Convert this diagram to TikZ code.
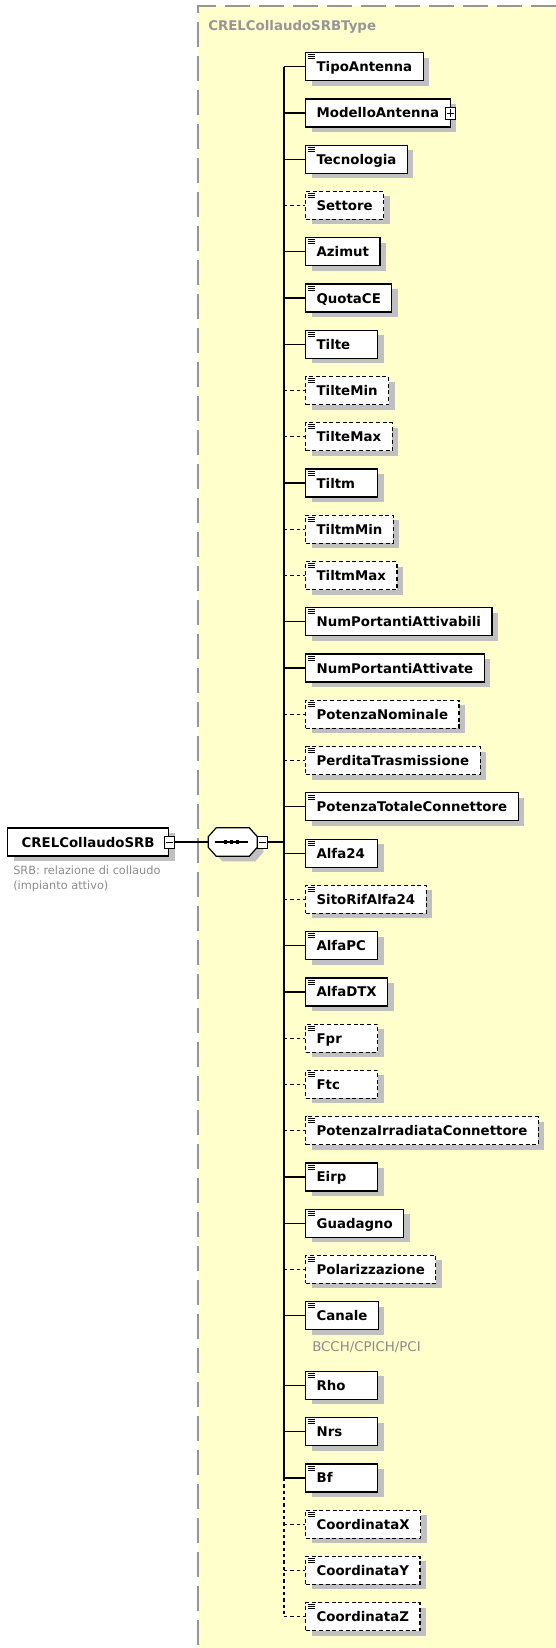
\documentclass[tikz,border=0pt]{standalone}
\usepackage{fontspec}
\setmainfont{DejaVu Sans}
\usetikzlibrary{shadows, positioning}
\definecolor{typeyellow}{RGB}{255,255,204}
\definecolor{typegray}{RGB}{150,150,150}
\definecolor{shadowgray}{RGB}{192,192,192}
\definecolor{notegray}{RGB}{140,140,140}
\newlength\elw
\newcommand\elabel[1]{\settowidth\elw{#1}\ifdim\elw<37.5pt\elw=37.5pt\fi\makebox[\elw][l]{#1}}

\tikzset{
  elm/.style={draw, fill=white, line width=0.9pt, anchor=west, minimum height=21pt,
    inner xsep=8.25pt, inner ysep=0pt, text height=7.5pt, text depth=0pt,
    font=\fontsize{10}{12}\selectfont\bfseries,
    drop shadow={shadow xshift=4.5pt, shadow yshift=-3.75pt, fill=shadowgray, opacity=1}},
  elo/.style={elm, dash pattern=on 3pt off 2pt},
  elc/.style={elm},
  brm/.style={line width=0.9pt},
  bro/.style={line width=0.9pt, dash pattern=on 2.5pt off 2.25pt},
  brc/.style={brm},
  toggle/.style={draw, fill=white, line width=0.6pt, minimum width=7.5pt, minimum height=9pt, inner sep=0pt},
  seqshape/.style={draw, fill=white, line width=0.9pt,
    drop shadow={shadow xshift=4.5pt, shadow yshift=-3.75pt, fill=shadowgray, opacity=1}}
}

\begin{document}
\begin{tikzpicture}[x=0.75pt, y=-0.75pt]
  \useasboundingbox (0,0) rectangle (556,1648);
  % complex type area
  \fill[typeyellow] (198,6) rectangle (556,1648);
  \draw[typegray, line width=1.1pt, dash pattern=on 18.75pt off 6.75pt] (556,6) -- (198,6) -- (198,1648);
  \node[anchor=base west, inner sep=0, text=typegray, font=\fontsize{10}{12}\selectfont\bfseries] (typename) at (208,31) {CRELCollaudoSRBType};

  % root element
  \node[elm, minimum width=120.75pt] (crel) at (7,842) {CRELCollaudoSRB};
  \node[toggle] (crelm) at (crel.east) {};
  \draw ([xshift=1.5pt]crelm.west) -- ([xshift=-1.5pt]crelm.east);
  \node[anchor=north west, align=left, inner sep=0, text=notegray, font=\fontsize{8.5}{11}\selectfont] (crelnote) at (13,866) {SRB: relazione di collaudo\\(impianto attivo)};

  % sequence
  \node[minimum width=36.4pt, minimum height=21pt, inner sep=0pt] (seq) at (232.75,842) {};
  \draw[seqshape] ([xshift=6pt]seq.north west) -- ([xshift=-6pt]seq.north east) -- ([yshift=-6.75pt]seq.north east)
    -- ([yshift=6.75pt]seq.south east) -- ([xshift=-6pt]seq.south east) -- ([xshift=6pt]seq.south west)
    -- ([yshift=6.75pt]seq.south west) -- ([yshift=-6.75pt]seq.north west) -- cycle;
  \draw[line width=0.9pt] ([xshift=-13.5pt]seq.center) -- ([xshift=11.5pt]seq.center);
  \foreach \d in {-7.5,-1.5,4.5} \fill ([shift={(\d-1.75,-1.75)}]seq.center) rectangle ++(3.5,3.5);
  \node[toggle, anchor=west] (seqm) at (seq.east) {};
  \draw ([xshift=1.5pt]seqm.west) -- ([xshift=-1.5pt]seqm.east);
  \coordinate (junc) at (284,842);
  \draw[brm] (crelm.east) -- (seq.west);
  \draw[brm] (seqm.east) -- (junc);

  % child elements
  \foreach \i/\lbl/\kind in {1/TipoAntenna/m, 2/ModelloAntenna/c, 3/Tecnologia/m, 4/Settore/o,
      5/Azimut/m, 6/QuotaCE/m, 7/Tilte/m, 8/TilteMin/o, 9/TilteMax/o, 10/Tiltm/m,
      11/TiltmMin/o, 12/TiltmMax/o, 13/NumPortantiAttivabili/m, 14/NumPortantiAttivate/m,
      15/PotenzaNominale/o, 16/PerditaTrasmissione/o, 17/PotenzaTotaleConnettore/m,
      18/Alfa24/m, 19/SitoRifAlfa24/o, 20/AlfaPC/m, 21/AlfaDTX/m, 22/Fpr/o, 23/Ftc/o,
      24/PotenzaIrradiataConnettore/o, 25/Eirp/m, 26/Guadagno/m, 27/Polarizzazione/o,
      28/Canale/m, 29/Rho/m, 30/Nrs/m, 31/Bf/m, 32/CoordinataX/o, 33/CoordinataY/o,
      34/CoordinataZ/o} {
    \pgfmathsetmacro\yy{66.7+(\i-1)*46.26+(\i>28)*23.4}
    \coordinate (t\i) at (284,\yy);
    \node[el\kind] (e\i) at (305,\yy) {\elabel{\lbl}};
    \draw[br\kind] (t\i) -- (e\i.west);
    \ifnum\i=2\else
      \foreach \k in {2.5,4.5,6.5} \draw[line width=0.35pt] ([shift={(3,\k)}]e\i.north west) -- ++(7,0);
    \fi
  }
  \draw[brm] (t1) -- (t31);
  \draw[bro] (t31) -- (t34);

  % complex content toggle
  \node[toggle] (e2p) at (e2.east) {};
  \draw ([xshift=1.5pt]e2p.west) -- ([xshift=-1.5pt]e2p.east);
  \draw ([yshift=-1.5pt]e2p.north) -- ([yshift=1.5pt]e2p.south);

  \node[anchor=base west, inner sep=0, text=notegray, font=\fontsize{10}{12}\selectfont] (canalenote) at (312,1351) {BCCH/CPICH/PCI};
\end{tikzpicture}
\end{document}
